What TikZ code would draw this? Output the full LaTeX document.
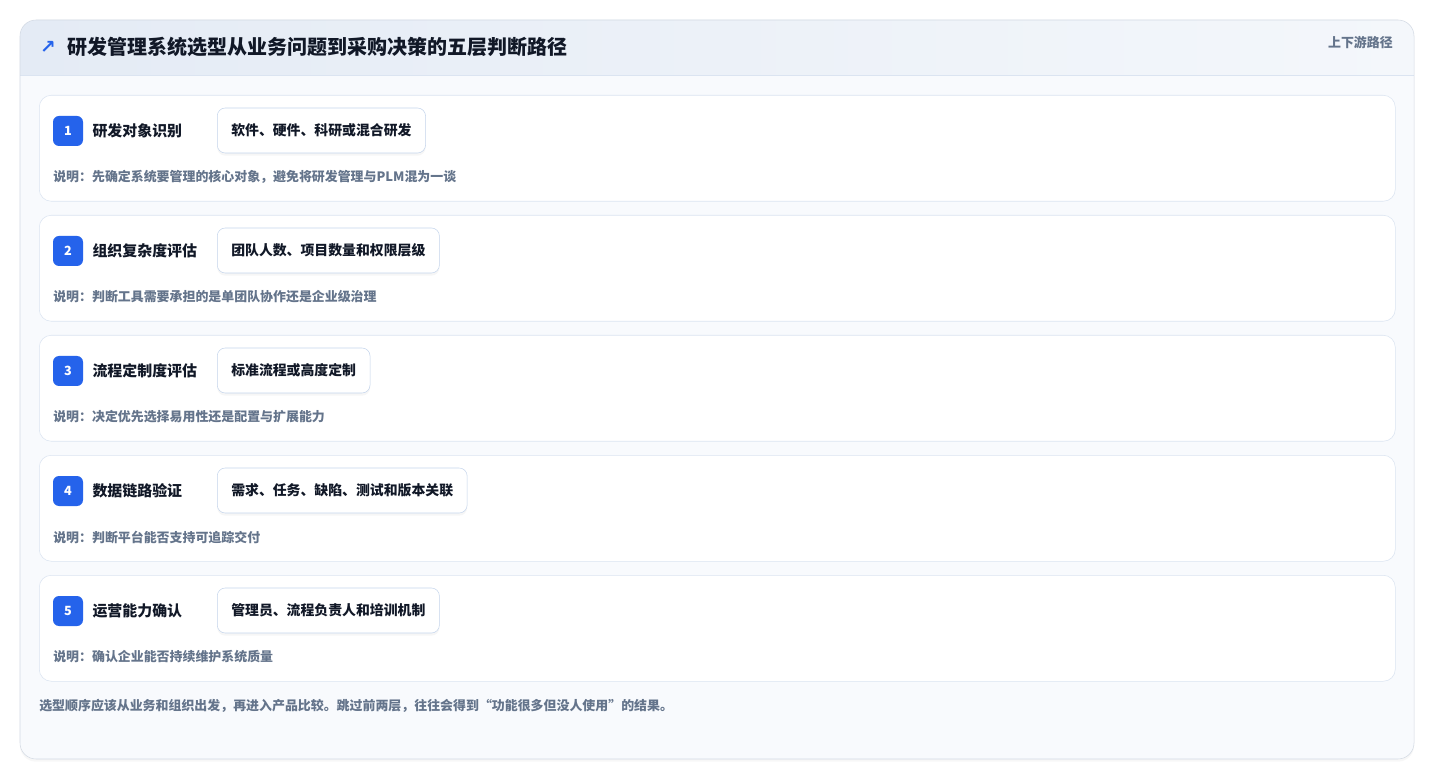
\documentclass[tikz,border=0pt]{standalone}
\usepackage{fontspec}
\setmainfont{Noto Sans CJK SC}
\newfontfamily\symfont{DejaVu Sans}
\usepackage{tikz}
\usetikzlibrary{positioning, shadows, shapes}
\usepackage{xcolor}
\definecolor{badgeblue}{HTML}{2563EB}
\definecolor{inkdark}{HTML}{111827}
\definecolor{inkgray}{HTML}{64748B}
\definecolor{lineblue}{HTML}{DBE4F1}
\definecolor{tagline}{HTML}{C5D5EC}
\definecolor{headleft}{HTML}{E4EBF5}
\definecolor{headright}{HTML}{F4F7FB}
\definecolor{cardbg}{HTML}{F8FAFD}
\definecolor{cardline}{HTML}{D3DAE4}

\begin{document}
\begin{tikzpicture}[x=0.75pt, y=-0.75pt,
rowbox/.style={rectangle, draw=lineblue, fill=white, rounded corners=9pt, minimum width=1017pt, minimum height=79.5pt, anchor=north west, inner sep=0pt},
badge/.style={rectangle, fill=badgeblue, text=white, rounded corners=4.5pt, minimum size=22.5pt, inner sep=0pt, font=\fontsize{9.5}{10}\selectfont\bfseries},
steplabel/.style={text=inkdark, inner sep=0pt, font=\fontsize{11.2}{13}\selectfont\bfseries},
tagbox/.style={rectangle, draw=tagline, fill=white, rounded corners=6pt, minimum height=33.75pt, inner xsep=10.5pt, anchor=west, text=inkdark, font=\fontsize{10.4}{12}\selectfont\bfseries, drop shadow={opacity=0.07, shadow xshift=0pt, shadow yshift=-2pt}},
notetext/.style={text=inkgray, inner sep=0pt, anchor=west, font=\fontsize{9.7}{12}\selectfont\bfseries},
]
\useasboundingbox (0,0) rectangle (1435,780);
\fill[white] (0,0) rectangle (1435,780);

%Card
\path[fill=cardbg, rounded corners=12pt, drop shadow={opacity=0.06, shadow xshift=0pt, shadow yshift=-2pt}] (20,20) rectangle (1414,759);
\begin{scope}
\clip[rounded corners=12pt] (20,20) rectangle (1414,759);
\shade[left color=headleft, right color=headright] (20,20) rectangle (1414,75);
\end{scope}
\draw[lineblue] (20,75) -- (1414,75);
\draw[cardline, rounded corners=12pt] (20,20) rectangle (1414,759);

%Header
\node[text=badgeblue, inner sep=0pt, font=\symfont\fontsize{14}{15}\selectfont\bfseries] (ARR) at (48,47) {↗};
\node[text=inkdark, inner sep=0pt, anchor=west, font=\fontsize{15}{18}\selectfont\bfseries] (TITLE) at (67,47) {研发管理系统选型从业务问题到采购决策的五层判断路径};
\node[text=inkgray, inner sep=0pt, anchor=east, font=\fontsize{9.7}{12}\selectfont\bfseries] (SUB) at (1393,43) {上下游路径};

%Nodes
\node[rowbox] (R1) at (39,95) {};
\node[badge] (B1) at (68,131) {1};
\node[steplabel] (L1) [right=6.75pt of B1] {研发对象识别};
\node[tagbox] (T1) at (217,130.5) {软件、硬件、科研或混合研发};
\node[notetext] (N1) at (53,177) {说明：先确定系统要管理的核心对象，避免将研发管理与PLM混为一谈};

\node[rowbox] (R2) at (39,215) {};
\node[badge] (B2) at (68,251) {2};
\node[steplabel] (L2) [right=6.75pt of B2] {组织复杂度评估};
\node[tagbox] (T2) at (217,250.5) {团队人数、项目数量和权限层级};
\node[notetext] (N2) at (53,297) {说明：判断工具需要承担的是单团队协作还是企业级治理};

\node[rowbox] (R3) at (39,335) {};
\node[badge] (B3) at (68,371) {3};
\node[steplabel] (L3) [right=6.75pt of B3] {流程定制度评估};
\node[tagbox] (T3) at (217,370.5) {标准流程或高度定制};
\node[notetext] (N3) at (53,417) {说明：决定优先选择易用性还是配置与扩展能力};

\node[rowbox] (R4) at (39,455) {};
\node[badge] (B4) at (68,491) {4};
\node[steplabel] (L4) [right=6.75pt of B4] {数据链路验证};
\node[tagbox] (T4) at (217,490.5) {需求、任务、缺陷、测试和版本关联};
\node[notetext] (N4) at (53,537) {说明：判断平台能否支持可追踪交付};

\node[rowbox] (R5) at (39,575) {};
\node[badge] (B5) at (68,611) {5};
\node[steplabel] (L5) [right=6.75pt of B5] {运营能力确认};
\node[tagbox] (T5) at (217,610.5) {管理员、流程负责人和培训机制};
\node[notetext] (N5) at (53,657) {说明：确认企业能否持续维护系统质量};

%Footer
\node[notetext] (FOOT) at (39,706) {选型顺序应该从业务和组织出发，再进入产品比较。跳过前两层，往往会得到“功能很多但没人使用”的结果。};

\end{tikzpicture}
\end{document}
